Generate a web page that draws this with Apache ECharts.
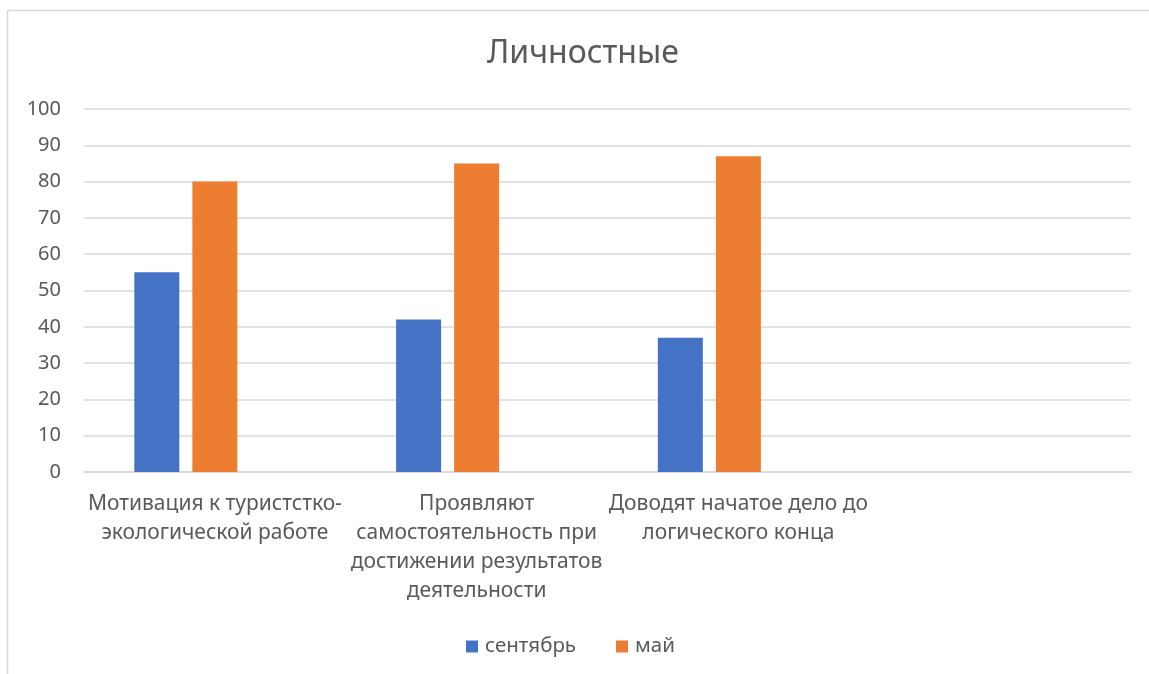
<!DOCTYPE html>
<html>
<head>
<meta charset="utf-8">
<script src="https://cdn.jsdelivr.net/npm/echarts@6/dist/echarts.min.js"></script>
<style>html,body{margin:0;padding:0;background:#fff;}#c{width:1149px;height:674px;}</style>
</head>
<body>
<div id="c"></div>
<script>
const categories = [
  'Мотивация к туристстко-\nэкологической работе',
  'Проявляют\nсамостоятельность при\nдостижении результатов\nдеятельности',
  'Доводят начатое дело до\nлогического конца',
  ''
];
const september = [55, 42, 37, null];
const may = [80, 85, 87, null];
const third = [null, null, null, null];
const yTicks = {min: 0, max: 100, interval: 10};

const FONT = '"Noto Sans", "Open Sans", sans-serif';
const chart = echarts.init(document.getElementById('c'));
chart.setOption({
  animation: false,
  textStyle: {fontFamily: FONT},
  graphic: [{
    type: 'rect', shape: {x: 7.5, y: 10.5, width: 1300, height: 800},
    style: {fill: 'none', stroke: '#d9d9d9', lineWidth: 1.5}, silent: true, z: -1
  }],
  title: {
    text: 'Личностные', left: 482, top: 33,
    textStyle: {fontFamily: FONT, fontSize: 32, fontWeight: 'normal', color: '#595959'}
  },
  legend: {
    data: ['сентябрь', 'май'], bottom: 12, left: 461,
    itemWidth: 12, itemHeight: 12, itemGap: 40, icon: 'rect',
    textStyle: {fontFamily: FONT, fontSize: 20.5, color: '#595959', padding: [0, 0, 0, 2]}
  },
  grid: {left: 84, right: 18, top: 109, bottom: 202, containLabel: false},
  xAxis: {
    type: 'category', data: categories,
    axisLine: {lineStyle: {color: '#d9d9d9', width: 1.5}},
    axisTick: {show: false},
    axisLabel: {fontFamily: FONT, fontSize: 21, color: '#595959', lineHeight: 29, margin: 18, interval: 0}
  },
  yAxis: {
    type: 'value', min: yTicks.min, max: yTicks.max, interval: yTicks.interval,
    axisLine: {show: false}, axisTick: {show: false},
    axisLabel: {fontFamily: FONT, fontSize: 20, color: '#595959', margin: 23},
    splitLine: {lineStyle: {color: '#d9d9d9', width: 1.5}}
  },
  series: [
    {name: 'сентябрь', type: 'bar', data: september, barWidth: 45, barGap: '29%', itemStyle: {color: '#4472c4'}},
    {name: 'май', type: 'bar', data: may, barWidth: 45, barGap: '29%', itemStyle: {color: '#ed7d31'}},
    {name: ' ', type: 'bar', data: third, barWidth: 45, barGap: '29%', itemStyle: {color: '#a5a5a5'}}
  ]
});
</script>
</body>
</html>
